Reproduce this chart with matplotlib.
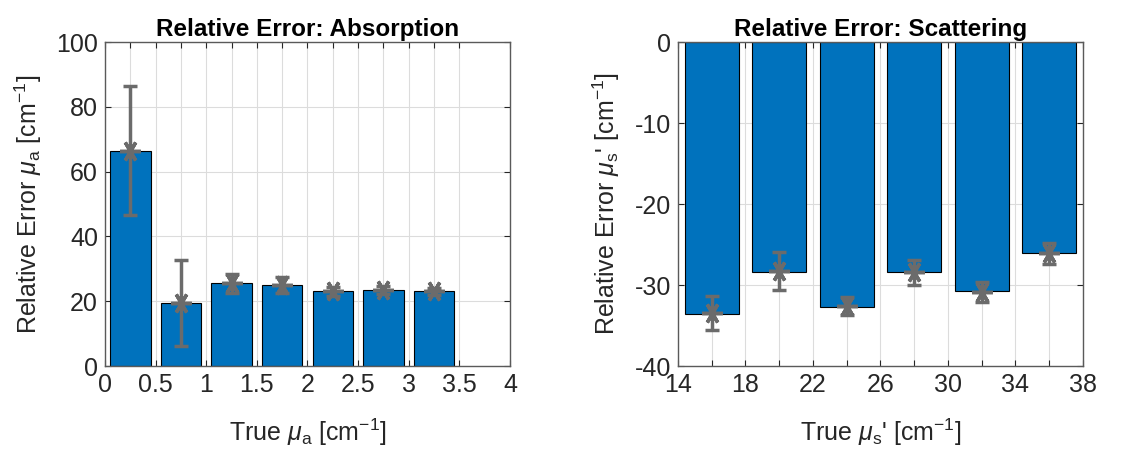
import numpy as np
import matplotlib
matplotlib.use("Agg")
import matplotlib.pyplot as plt

plt.rcParams['font.family'] = ['Liberation Sans', 'DejaVu Sans']
plt.rcParams['mathtext.fontset'] = 'custom'
plt.rcParams['mathtext.rm'] = 'Liberation Sans'
plt.rcParams['mathtext.it'] = 'Liberation Sans:italic'
plt.rcParams['mathtext.bf'] = 'Liberation Sans:bold'
plt.rcParams['axes.unicode_minus'] = False

# absorption
mua_true = [0.25, 0.75, 1.25, 1.75, 2.25, 2.75, 3.25]
mua_err = [66.5, 19.5, 25.5, 25.0, 23.0, 23.5, 23.0]
mua_mean = [66.5, 19.5, 25.5, 25.0, 23.0, 23.5, 23.0]
mua_std = [20.0, 13.2, 3.0, 2.6, 1.5, 1.2, 1.1]
mua_xticks = [0, 0.5, 1, 1.5, 2, 2.5, 3, 3.5, 4]
mua_xlabels = ['0', '0.5', '1', '1.5', '2', '2.5', '3', '3.5', '4']

# scattering
mus_true = [16, 20, 24, 28, 32, 36]
mus_err = [-33.6, -28.4, -32.7, -28.4, -30.8, -26.0]
mus_mean = [-33.5, -28.3, -32.6, -28.4, -30.9, -26.1]
mus_std = [2.1, 2.35, 1.15, 1.55, 1.25, 1.3]
mus_xticks = [14, 18, 22, 26, 30, 34, 38]

blue = "#0072BD"
grey = "#6b6b6b"
dark = "#262626"
star = (6, 2, 30)

fig = plt.figure(figsize=(11.45, 4.55), dpi=100)
ax1 = fig.add_axes([0.0917, 0.1956, 0.3537, 0.712])
ax2 = fig.add_axes([0.5921, 0.1956, 0.3537, 0.712])


def style(ax, xticks, xminor, xlim, ylim, yticks):
    ax.set_axisbelow(True)
    ax.set_xticks(xticks)
    ax.set_xticks(xminor, minor=True)
    ax.set_yticks(yticks)
    ax.set_xlim(xlim)
    ax.set_ylim(ylim)
    ax.grid(True, which='both', axis='x', color='#dcdcdc', linewidth=0.8)
    ax.grid(True, which='major', axis='y', color='#dcdcdc', linewidth=0.8)
    ax.tick_params(which='both', direction='in', top=True, right=True,
                   labelsize=18, colors=dark, length=4, width=0.8, pad=5)
    for s in ax.spines.values():
        s.set_color('#5a5a5a')
        s.set_linewidth(1.0)


ax1.bar(mua_true, mua_err, width=0.4, color=blue, edgecolor='black', linewidth=0.8)
ax1.errorbar(mua_true, mua_mean, yerr=mua_std, fmt='none', ecolor=grey,
             elinewidth=2.5, capsize=5, capthick=2.5)
ax1.plot(mua_true, mua_mean, linestyle='none', marker=star, markersize=15,
         markeredgewidth=2.5, color=grey)
style(ax1, mua_xticks, mua_true, (0, 4), (0, 100), [0, 20, 40, 60, 80, 100])
ax1.set_xticklabels(mua_xlabels)
ax1.set_title('Relative Error: Absorption', fontsize=17.5, fontweight='bold', pad=4)
ax1.set_xlabel(r'True $\mu_{\mathrm{a}}$ [cm$^{\mathrm{-1}}$]', fontsize=18, color=dark, labelpad=14)
ax1.set_ylabel(r'Relative Error $\mu_{\mathrm{a}}$ [cm$^{\mathrm{-1}}$]', fontsize=18, color=dark, labelpad=9)

ax2.bar(mus_true, mus_err, width=3.2, color=blue, edgecolor='black', linewidth=0.8)
ax2.errorbar(mus_true, mus_mean, yerr=mus_std, fmt='none', ecolor=grey,
             elinewidth=2.5, capsize=5, capthick=2.5)
ax2.plot(mus_true, mus_mean, linestyle='none', marker=star, markersize=15,
         markeredgewidth=2.5, color=grey)
style(ax2, mus_xticks, mus_true, (14, 38), (-40, 0), [-40, -30, -20, -10, 0])
ax2.set_title('Relative Error: Scattering', fontsize=17.5, fontweight='bold', pad=4)
ax2.set_xlabel(r"True $\mu_{\mathrm{s}}$' [cm$^{\mathrm{-1}}$]", fontsize=18, color=dark, labelpad=14)
ax2.set_ylabel(r"Relative Error $\mu_{\mathrm{s}}$' [cm$^{\mathrm{-1}}$]", fontsize=18, color=dark, labelpad=9)

fig.savefig("out.png", dpi=100)
